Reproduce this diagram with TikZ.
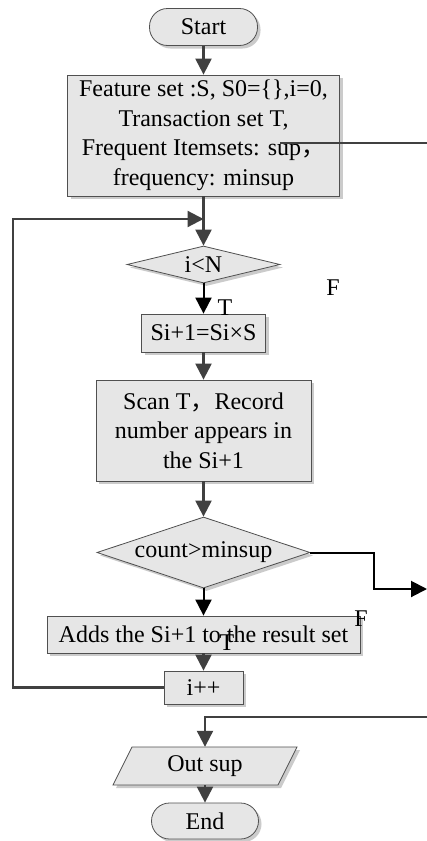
\documentclass[tikz,border=0pt]{standalone}
\usepackage{fontspec}
\setmainfont{Liberation Serif}
\newfontfamily\cjk{Noto Sans CJK SC}
\usetikzlibrary{arrows.meta,shapes.geometric,shadows}
\definecolor{ln}{HTML}{404040}
\definecolor{ol}{HTML}{505050}
\definecolor{bx}{HTML}{E6E6E6}
\definecolor{sh}{HTML}{CBCBCB}
\tikzset{
  txt/.style={inner sep=0pt, align=center, font=\fontsize{24}{29.5}\selectfont},
  box/.style={txt, draw=ol, line width=0.8pt, fill=bx,
    drop shadow={shadow xshift=3pt, shadow yshift=-3pt, fill=sh, opacity=1}},
  pill/.style={box, rounded corners=18pt},
  dia/.style={box, diamond},
  conn/.style={draw=ln, line width=2.2pt, -{Triangle[length=16pt,width=16pt]}},
  bconn/.style={draw=black, line width=2pt, -{Triangle[length=16pt,width=16pt]}},
  lbl/.style={txt}
}
\begin{document}
\begin{tikzpicture}[x=1pt,y=-1pt]
\fill[white] (0,0) rectangle (427,841);
\useasboundingbox (0,0) rectangle (427,841);

\node[pill, minimum width=108pt, minimum height=37pt] (start) at (203.5,27) {Start};
\node[box, minimum width=272pt, minimum height=121pt] (init) at (203.5,135.5)
  {Feature set :S, S0=\{\},i=0,\\Transaction set T,\\Frequent Itemsets: sup{\cjk ，}\\frequency: minsup};
\node[dia, aspect=4.1, minimum width=153pt, minimum height=37pt] (d1) at (203.5,264.5) {i<N};
\node[box, minimum width=124pt, minimum height=38pt] (s1) at (203.5,333) {Si+1=Si×S};
\node[box, minimum width=215pt, minimum height=101pt] (scan) at (203.5,430.5)
  {Scan T{\cjk ，}Record\\number appears in\\the Si+1};
\node[dia, aspect=3, minimum width=213pt, minimum height=71pt] (d2) at (203.5,552.5) {count>minsup};
\node[box, minimum width=313pt, minimum height=37pt] (adds) at (203.5,634.5) {Adds the Si+1 to the result set};
\node[box, minimum width=79pt, minimum height=33pt] (ipp) at (203.5,687.5) {i++};
\filldraw[draw=ol, line width=0.8pt, fill=bx,
  drop shadow={shadow xshift=3pt, shadow yshift=-3pt, fill=sh, opacity=1}]
  (113,785) -- (132,747) -- (297,747) -- (278,785) -- cycle;
\node[txt, minimum width=146pt, minimum height=38pt] (out) at (205,766) {Out sup};
\node[pill, minimum width=107pt, minimum height=36pt] (end) at (205,821) {End};

% labels
\node[lbl] (t1) at (225,308) {T};
\node[lbl] (f1) at (333,288) {F};
\node[lbl] (f2) at (361,619) {F};
\node[lbl] (t2) at (227,643) {T};

% coordinates
\coordinate (join) at (203.5,219);
\coordinate (lft) at (13,219);
\coordinate (bend) at (374,589);
\coordinate (fexit) at (427,589);
\coordinate (oin) at (427,717);
\coordinate (sa) at (280,143);
\coordinate (sb) at (427,143);

% connectors
\draw[conn] (start.south) -- (init.north);
\draw[conn] (init.south) -- (d1.north);
\draw[conn] (ipp.west) -| (lft) -- (join);
\draw[bconn] (d1.south) -- (s1.north);
\draw[conn] (s1.south) -- (scan.north);
\draw[conn] (scan.south) -- (d2.north);
\draw[bconn] (d2.east) -| (bend) -- (fexit);
\draw[bconn] (d2.south) -- (adds.north);
\draw[conn] (adds.south) -- (ipp.north);
\draw[conn] (oin) -- (oin -| out.north) -- (out.north);
\draw[conn] (out.south) -- (end.north);
\draw[draw=ln, line width=2pt] (sa) -- (sb);
\end{tikzpicture}
\end{document}
